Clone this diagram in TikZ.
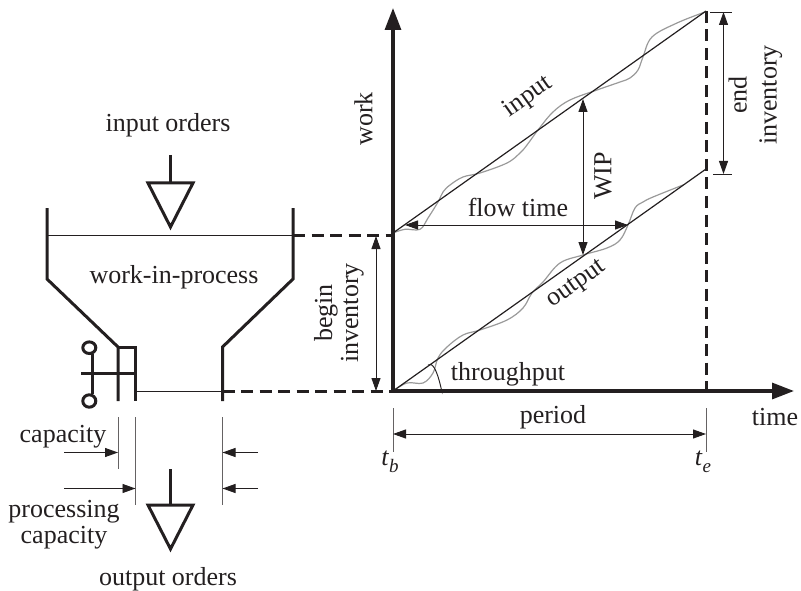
\documentclass[tikz,border=0pt]{standalone}
\usepackage{fontspec}
\setmainfont{Liberation Serif}
\usetikzlibrary{arrows.meta}
\definecolor{ink}{HTML}{231F20}
\definecolor{wig}{HTML}{9A9A9A}
\tikzset{
  heavy/.style={draw=ink,line width=3pt},
  fine/.style={draw=ink,line width=0.95pt},
  guide/.style={draw=ink!70,line width=1pt},
  dash line/.style={draw=ink,line width=3pt,dash pattern=on 12pt off 6.5pt},
  wiggle/.style={draw=wig,line width=1.2pt,smooth,tension=0.6},
  dim/.style={fine,{Triangle[length=13pt,width=9pt]}-{Triangle[length=13pt,width=9pt]}},
  tip/.style={fine,-{Triangle[length=13pt,width=9pt]}},
  axis/.style={draw=ink,line width=3.2pt,-{Triangle[length=22pt,width=16pt]}},
  lbl/.style={text=ink,font=\fontsize{26}{26}\selectfont,inner sep=0pt,align=center},
}
\begin{document}
\begin{tikzpicture}[x=1pt,y=-1pt]
\useasboundingbox (0,0) rectangle (801,591);
% key points
\coordinate (O) at (393,391);
\coordinate (Y) at (393,8);
\coordinate (X) at (794,391);
\coordinate (B) at (393,233);
\coordinate (BL) at (393,235);
\coordinate (E) at (706,11);
\coordinate (F) at (706,169);
\coordinate (EB) at (706,391);
% hopper
\draw[fine] (47,235) -- (293,235);
\draw[fine] (135,391) -- (222.5,391);
\draw[heavy,line join=miter] (47,208) -- (47,279) -- (118,347) -- (118,401);
\draw[heavy] (118,347) -- (135,347) -- (135,401);
\draw[heavy] (293,208) -- (293,279) -- (222.5,347) -- (222.5,401);
% valve
\draw[heavy] (81,373) -- (135,373);
\draw[heavy] (92,354) -- (92,394);
\draw[heavy] (89.3,347.7) ellipse (6.5pt and 5.8pt);
\draw[heavy] (89.3,401) ellipse (6.5pt and 6.2pt);
% triangles
\draw[heavy] (170.5,155) -- (170.5,183);
\draw[heavy,line join=miter] (148,183) -- (193,183) -- (170.5,227) -- cycle;
\draw[heavy] (170.5,469) -- (170.5,505);
\draw[heavy,line join=miter] (148,505) -- (193,505) -- (170.5,549) -- cycle;
% dashed
\draw[dash line] (293,235) -- (BL);
\draw[dash line] (222.5,391) -- (O);
\draw[dash line] (E) -- (EB);
% capacity guides
\draw[guide] (118,417) -- (118,469);
\draw[guide] (135.5,417) -- (135.5,505);
\draw[guide] (222.5,417) -- (222.5,505);
\draw[tip] (64,452.5) -- (118,452.5);
\draw[tip] (64,488.5) -- (135.5,488.5);
\draw[tip] (258,452.5) -- (222.5,452.5);
\draw[tip] (258,488.5) -- (222.5,488.5);
% wiggles
\draw[wiggle] plot coordinates {(393,233) (405,229.3) (420,229.3) (428,218) (438,202) (443,192) (450,185) (463,177) (480,173) (507,163) (520,153) (527,145) (538,130) (553,112) (570,100) (597,90) (620,82) (630,78) (638,70) (643,57) (652,37) (677,23) (705,12)};
\draw[wiggle] plot coordinates {(393,391) (407,383) (423,383) (433,373) (438,358) (447,347) (463,335) (480,330) (507,320) (523,308) (532,293) (543,282) (560,263) (583,255) (607,248) (620,240) (628,225) (635,208) (643,202) (653,197) (683,185)};
% curves
\draw[draw=ink,line width=1.2pt] (B) -- (E);
\draw[draw=ink,line width=1.2pt] (O) -- (F);
% axes
\draw[axis] (O) -- (Y);
\draw[axis] (O) -- (X);
% dimensions
\draw[dim] (376,236) -- (376,391);
\draw[fine] (710,12) -- (732,12);
\draw[fine] (713,174) -- (732,174);
\draw[dim] (723.5,12) -- (723.5,174);
\draw[dim] (583,99) -- (583,255);
\draw[dim] (405,225) -- (628,225);
\draw[guide] (393,408) -- (393,452);
\draw[guide] (706,408) -- (706,452);
\draw[dim] (393,434) -- (706,434);
\draw[fine] (428,365) to[out=35,in=-85] (442,390);
% labels
\node[lbl] (linput) at (168,125) {input orders};
\node[lbl] (lwip) at (174,277) {work-in-process};
\node[lbl] (lcap) at (63,437) {capacity};
\node[lbl] (lproc) at (64,525) {processing\\capacity};
\node[lbl] (lout) at (168,579) {output orders};
\node[lbl,rotate=90] (lwork) at (363.5,119) {work};
\node[lbl,rotate=90] (lbegin) at (339,313) {begin\\inventory};
\node[lbl,rotate=90] (lend) at (755.5,95) {end\\[4pt]inventory};
\node[lbl,rotate=90] (lw) at (603,176) {WIP};
\node[lbl,rotate=35.5] (li) at (528,97) {input};
\node[lbl,rotate=35.5] (lo) at (577,285) {output};
\node[lbl] (lflow) at (518,207) {flow time};
\node[lbl] (lthru) at (508,374) {throughput};
\node[lbl] (lper) at (553,417) {period};
\node[lbl] (ltime) at (775,417) {time};
\node[lbl] (ltb) at (390,462) {\textit{t}\raisebox{-0.25em}{\fontsize{19}{19}\selectfont\textit{b}}};
\node[lbl] (lte) at (703,462) {\textit{t}\raisebox{-0.25em}{\fontsize{19}{19}\selectfont\textit{e}}};
\end{tikzpicture}
\end{document}
